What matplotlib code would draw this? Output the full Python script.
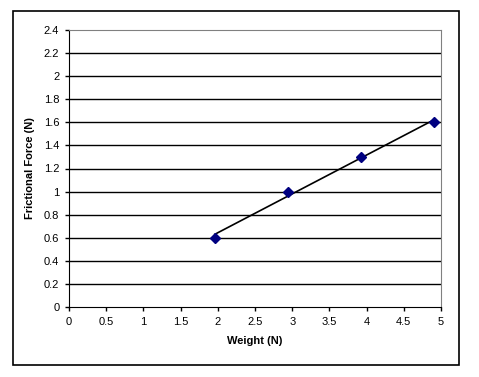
import numpy as np
import matplotlib.pyplot as plt
from matplotlib.patches import Rectangle

# Data
weight = [1.96, 2.94, 3.92, 4.9]
friction = [0.6, 1.0, 1.3, 1.6]

xticks = np.arange(0, 5.01, 0.5)
yticks = np.arange(0, 2.41, 0.2)

plt.rcParams['font.family'] = ['Liberation Sans', 'DejaVu Sans']

fig = plt.figure(figsize=(4.79, 3.77), dpi=100)
ax = fig.add_axes([69 / 479, 70 / 377, 372 / 479, 277 / 377])

# linear trendline across the data range
k, b = np.polyfit(weight, friction, 1)
xs = np.array([weight[0], weight[-1]])
ax.plot(xs, k * xs + b, color='black', lw=1.2, zorder=3)
ax.plot(weight, friction, linestyle='none', marker='D', ms=5,
        color='#000080', zorder=4)

ax.set_xlim(0, 5)
ax.set_ylim(0, 2.4)
ax.set_xticks(xticks)
ax.set_yticks(yticks)
ax.set_xticklabels([f'{v:g}' for v in xticks])
ax.set_yticklabels([f'{v:g}' for v in yticks])
ax.tick_params(direction='out', length=3, width=1, labelsize=8, pad=4)

for y in yticks[1:-1]:
    ax.axhline(y, color='black', lw=1, zorder=1)

for s in ['top', 'right']:
    ax.spines[s].set_color('#808080')
for s in ['left', 'bottom']:
    ax.spines[s].set_color('black')

ax.set_xlabel('Weight (N)', fontsize=8, fontweight='bold', labelpad=7)
ax.set_ylabel('Frictional Force (N)', fontsize=8, fontweight='bold', labelpad=6)

# chart-area border
fig.patches.append(Rectangle((13 / 479, 12 / 377), 446 / 479, 354 / 377,
                             transform=fig.transFigure, fill=False,
                             edgecolor='black', lw=1.2))

fig.savefig('out.png', dpi=100)
